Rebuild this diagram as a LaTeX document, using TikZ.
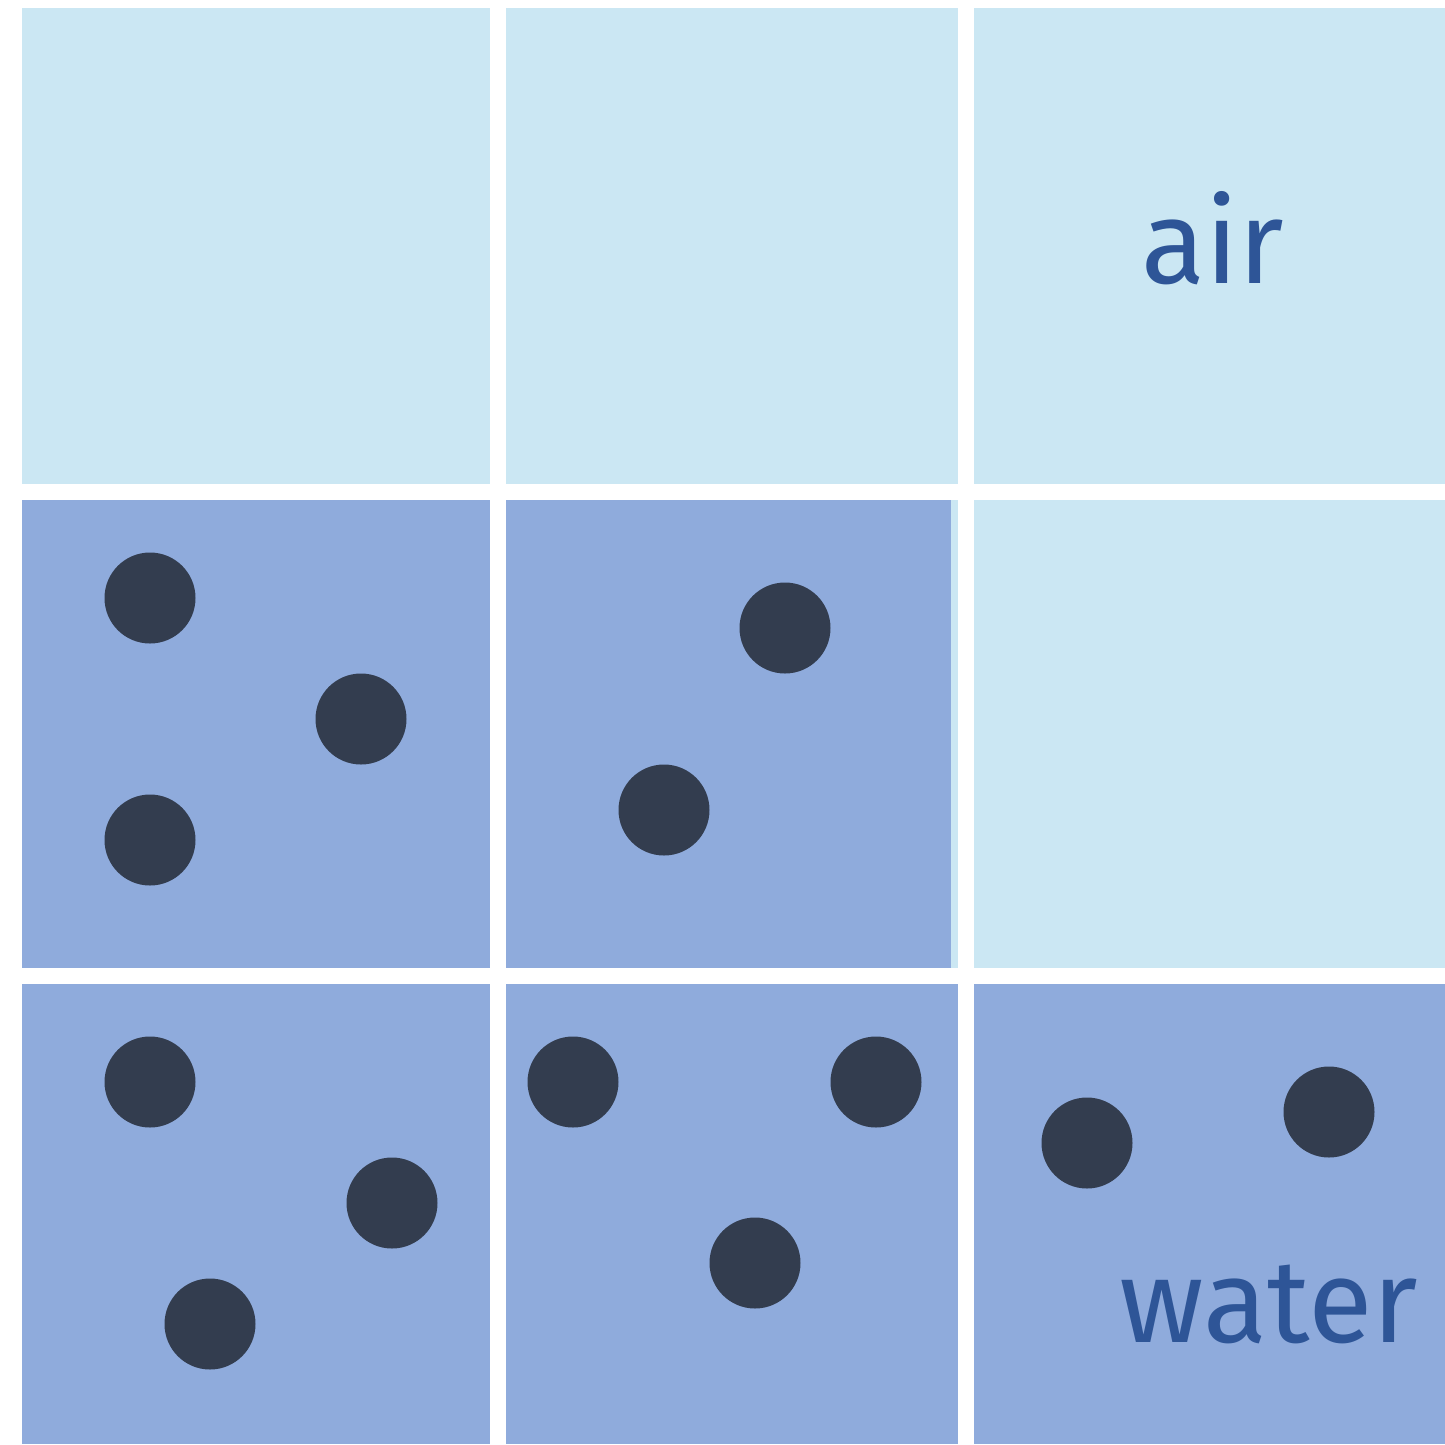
\documentclass[tikz,border=0pt]{standalone}
\usepackage{fontspec}
\setmainfont{Fira Sans}
\definecolor{airc}{HTML}{CBE7F3}
\definecolor{waterc}{HTML}{8FABDC}
\definecolor{dotc}{HTML}{333D4F}
\definecolor{txtc}{HTML}{2E5597}
\begin{document}
\begin{tikzpicture}[x=1pt,y=-1pt,
  aircell/.style={fill=airc},
  watercell/.style={fill=waterc},
  molecule/.style={fill=dotc},
  lbl/.style={text=txtc,font=\fontsize{118}{118}\selectfont,inner sep=0pt}]
\useasboundingbox (0,0) rectangle (1445,1444);
\fill[white] (0,0) rectangle (1445,1444);
% row 1
\fill[aircell] (22,8) rectangle (490,484);
\fill[aircell] (506,8) rectangle (958,484);
\fill[aircell] (974,8) rectangle (1445,484);
% row 2
\fill[watercell] (22,500) rectangle (490,968);
\fill[aircell] (506,500) rectangle (958,968);
\fill[watercell] (506,500) rectangle (951,968);
\fill[aircell] (974,500) rectangle (1445,968);
% row 3
\fill[watercell] (22,984) rectangle (490,1444);
\fill[watercell] (506,984) rectangle (958,1444);
\fill[watercell] (974,984) rectangle (1445,1444);
% molecules
\foreach \p in {(150,598),(361,719),(150,840),(785,628),(664,810),
  (150,1082),(392,1203),(210,1324),(573,1082),(876,1082),(755,1263),
  (1087,1143),(1329,1112)}
  \fill[molecule] \p circle (45.5);
% labels
\node[lbl,anchor=base] (air) at (1213,283) {air};
\node[lbl,anchor=base east] (water) at (1418,1342) {water};
\end{tikzpicture}
\end{document}
